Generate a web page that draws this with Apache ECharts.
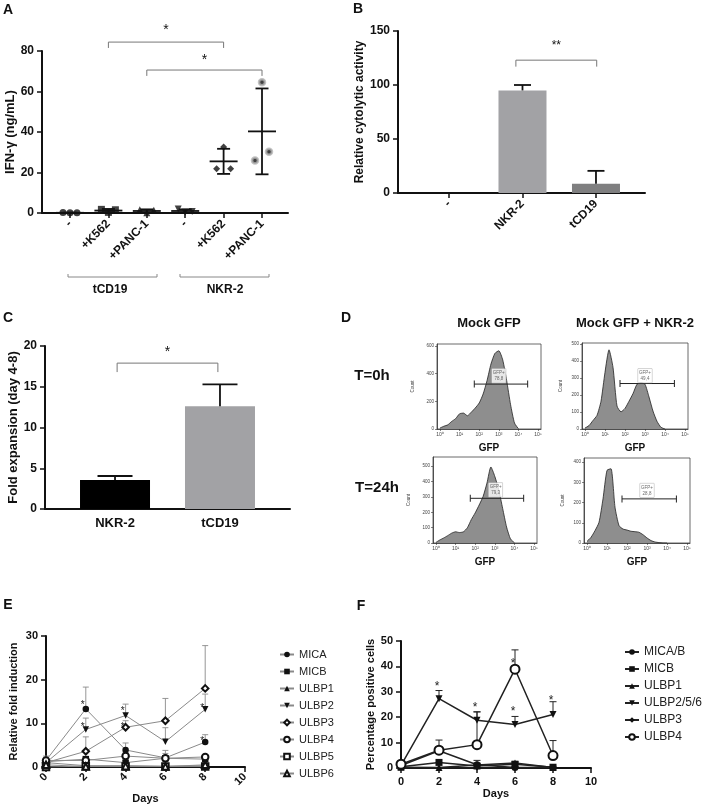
<!DOCTYPE html>
<html><head><meta charset="utf-8">
<script src="https://cdn.jsdelivr.net/npm/echarts@6/dist/echarts.min.js"></script>
<style>html,body{margin:0;padding:0;background:#fff}#c{width:708px;height:812px}</style>
</head><body><div id="c"></div>
<script>
// ---------- Panel A: IFN-gamma ----------
const catsA = ['-', '+K562', '+PANC-1', '-', '+K562', '+PANC-1'];
const pointsA = [[0.2, 0.1, 0.1], [1.8, 0.3, 1.6], [1.6, 0.1, 1.3], [2.0, 0.4, 0.7], [21.9, 32.6, 21.9], [25.9, 64.6, 30.3]];
const meanA = [0.1, 1.2, 1.0, 1.0, 25.5, 40.3];
const sdA = [0.1, 0.8, 0.8, 0.8, 6.2, 21.2];
const groupNamesA = ['tCD19', 'NKR-2'];
// significance: [from, to, bracketY, tipY, starY]
const sigA = [[1, 4, 84.4, 81.5, 91.8], [2, 5, 70.6, 67.7, 77.0]];
const sigTextA = ['*', '*'];

// ---------- Panel B: cytolytic activity ----------
const catsB = ['-', 'NKR-2', 'tCD19'];
const valsB = [0, 95, 8.5];
const sdB = [0, 5, 12];
const sigB = [[0.91, 2.01, 123, 117, 139]];
const sigTextB = ['**'];

// ---------- Panel C: fold expansion ----------
const catsC = ['NKR-2', 'tCD19'];
const valsC = [3.55, 12.6];
const sdC = [0.5, 2.7];
const sigC = [[0.02, 0.98, 17.9, 16.8, 19.7]];
const sigTextC = ['*'];

// ---------- Panel D: flow histograms (x = log10 GFP) ----------
const gfpLog = [0, 0.2, 0.4, 0.6, 0.8, 1.0, 1.2, 1.4, 1.6, 1.8, 2.0, 2.2, 2.4, 2.6, 2.8, 3.0, 3.2, 3.4, 3.6, 3.8, 4.0];
const histT0Mock = [7, 20, 30, 55, 75, 110, 115, 96, 122, 152, 188, 253, 350, 470, 547, 566, 500, 350, 176, 43, 2];
const histT0NKR = [6, 20, 50, 80, 163, 333, 465, 362, 135, 101, 121, 163, 208, 263, 273, 263, 188, 105, 45, 10, 0];
const histT24Mock = [4, 20, 33, 48, 64, 73, 68, 73, 99, 152, 196, 247, 302, 390, 495, 434, 346, 225, 104, 26, 2];
const histT24NKR = [8, 28, 61, 102, 218, 359, 367, 177, 86, 69, 64, 58, 56, 53, 41, 25, 12, 5, 2, 0, 0];
const countMaxD = [615, 505, 560, 420];
const countTicksD = [[0, 200, 400, 600], [0, 100, 200, 300, 400, 500], [0, 100, 200, 300, 400, 500], [0, 100, 200, 300, 400]];
const gateLog = [1.75, 4.47];
const gateCount = [325, 267, 291, 218];
const gatePct = ['78,8', '49,4', '79,3', '28,8'];
const gateLabelPos = [[3.0, 385], [3.0, 313], [3.04, 346], [3.0, 260]];
const colHeadersD = ['Mock GFP', 'Mock GFP + NKR-2'];
const rowHeadersD = ['T=0h', 'T=24h'];
const decadeTicks = [0, 1, 2, 3, 4, 5];

// ---------- Panel E: relative fold induction ----------
const days = [0, 2, 4, 6, 8];
const namesE = ['MICA', 'MICB', 'ULBP1', 'ULBP2', 'ULBP3', 'ULBP4', 'ULBP5', 'ULBP6'];
const valsE = [
  [1.5, 13.3, 3.9, 2.1, 5.7],
  [1.2, 1.8, 1.0, 2.0, 1.8],
  [1.0, 0.3, 0.3, 0.2, 0.3],
  [1.0, 8.6, 11.8, 5.8, 13.2],
  [1.0, 3.6, 9.1, 10.6, 18.0],
  [1.5, 1.5, 2.5, 2.0, 2.3],
  [0.0, 0.2, 0.1, 0.1, 0.1],
  [0.5, 0.1, 0.2, 0.1, 0.5]
];
const sdE = [
  [1.0, 5.0, 1.6, 1.0, 1.7],
  [0.5, 0.3, 0.5, 0.5, 0.4],
  [0.3, 0.2, 0.2, 0.2, 0.2],
  [0.5, 2.6, 2.6, 3.2, 3.5],
  [0.5, 3.3, 1.5, 5.1, 9.8],
  [0.5, 0.5, 0.8, 1.8, 0.5],
  [0, 0, 0, 0, 0],
  [0.3, 0, 0, 0, 0]
];
const starsE = [[2, 14.7], [2, 9.6], [4, 13.3], [4, 9.6], [8, 14.0], [8, 6.4]];

// ---------- Panel F: percentage positive cells ----------
const namesF = ['MICA/B', 'MICB', 'ULBP1', 'ULBP2/5/6', 'ULBP3', 'ULBP4'];
const valsF = [
  [1.0, 6.8, 1.3, 0.2, 0.2],
  [0.5, 2.2, 0.8, 1.5, 0.3],
  [0.3, 0.2, 1.2, 2.0, 0.2],
  [1.0, 27.3, 18.8, 17.1, 21.1],
  [0.0, 0.0, 0.0, 0.0, 0.2],
  [1.5, 7.0, 9.2, 38.9, 4.9]
];
const sdF = [
  [1.0, 4.2, 1.7, 0, 0],
  [0.5, 0, 0.5, 0.5, 0],
  [0, 0, 0.5, 0.5, 0],
  [1.0, 3.2, 3.3, 3.2, 5.0],
  [0, 0, 0, 0, 0],
  [1.0, 0, 12.9, 7.6, 5.9]
];
const starsF = [[2, 33.0], [4, 25.0], [6, 42.1], [6, 23.2], [8, 27.6]];

// =====================================================
const FONT = '"Liberation Sans", Arial, Helvetica, sans-serif';
const BLK = '#111';
const sup = ['\u2070', '\u00b9', '\u00b2', '\u00b3', '\u2074', '\u2075'];
const downTri = 'path://M0,0 L10,0 L5,9 Z';
const chart = echarts.init(document.getElementById('c'));

function yAx(grid, min, max, interval, name, nameGap, fs, nfs) {
  return {
    type: 'value', gridIndex: grid, min, max, interval,
    axisLine: { show: true, onZero: false, lineStyle: { color: BLK, width: 2 } },
    axisTick: { show: true, length: 5, lineStyle: { color: BLK, width: 1.5 } },
    axisLabel: { color: BLK, fontWeight: 'bold', fontSize: fs, fontFamily: FONT, margin: 8 },
    splitLine: { show: false },
    name, nameLocation: 'middle', nameRotate: 90, nameGap,
    nameTextStyle: { color: BLK, fontWeight: 'bold', fontSize: nfs, fontFamily: FONT }
  };
}
function xCat(grid, min, max, cats, rotate, fs, showTick) {
  const idx = cats.map((_, i) => i);
  return {
    type: 'value', gridIndex: grid, min, max,
    axisLine: { show: true, onZero: false, lineStyle: { color: BLK, width: 2 } },
    axisTick: { show: showTick, customValues: idx, length: 5, lineStyle: { color: BLK, width: 1.5 } },
    axisLabel: { customValues: idx, formatter: v => cats[Math.round(v)], rotate, fontSize: fs, fontWeight: 'bold', color: BLK, fontFamily: FONT, margin: 9 },
    splitLine: { show: false }
  };
}
function xDays(grid, rotate, nameGap, fs) {
  return {
    type: 'value', gridIndex: grid, min: 0, max: 10, interval: 2,
    axisLine: { show: true, onZero: false, lineStyle: { color: BLK, width: 2 } },
    axisTick: { show: true, length: 5, lineStyle: { color: BLK, width: 1.5 } },
    axisLabel: { rotate, fontSize: fs, fontWeight: 'bold', color: BLK, fontFamily: FONT, margin: 8 },
    splitLine: { show: false },
    name: 'Days', nameLocation: 'middle', nameGap,
    nameTextStyle: { color: BLK, fontWeight: 'bold', fontSize: 11, fontFamily: FONT }
  };
}

function errRender(capW, lw, color, meanW) {
  return function (params, api) {
    const x = api.value(0), m = api.value(1), sd = api.value(2);
    const style = { stroke: color, lineWidth: lw, fill: null };
    const pm = api.coord([x, m]), pu = api.coord([x, m + sd]);
    const ch = [];
    if (meanW) {
      const pl = api.coord([x, m - sd]);
      ch.push({ type: 'line', shape: { x1: pu[0], y1: pu[1], x2: pl[0], y2: pl[1] }, style });
      ch.push({ type: 'line', shape: { x1: pu[0] - capW / 2, y1: pu[1], x2: pu[0] + capW / 2, y2: pu[1] }, style });
      ch.push({ type: 'line', shape: { x1: pl[0] - capW / 2, y1: pl[1], x2: pl[0] + capW / 2, y2: pl[1] }, style });
      ch.push({ type: 'line', shape: { x1: pm[0] - meanW / 2, y1: pm[1], x2: pm[0] + meanW / 2, y2: pm[1] }, style });
    } else {
      if (!(sd > 0)) return null;
      ch.push({ type: 'line', shape: { x1: pm[0], y1: pm[1], x2: pu[0], y2: pu[1] }, style });
      ch.push({ type: 'line', shape: { x1: pu[0] - capW / 2, y1: pu[1], x2: pu[0] + capW / 2, y2: pu[1] }, style });
    }
    return { type: 'group', children: ch };
  };
}
function bracketRender(labels, color, fs) {
  return function (params, api) {
    const x1 = api.value(0), x2 = api.value(1), yt = api.value(2), yp = api.value(3), ys = api.value(4);
    const a = api.coord([x1, yp]), b = api.coord([x1, yt]), c = api.coord([x2, yt]), d = api.coord([x2, yp]);
    const s = api.coord([(x1 + x2) / 2, ys]);
    return {
      type: 'group', children: [
        { type: 'polyline', shape: { points: [a, b, c, d] }, style: { stroke: color, lineWidth: 1, fill: null } },
        { type: 'text', x: s[0], y: s[1] + fs * 0.25, style: { text: labels[params.dataIndex], fill: BLK, fontSize: fs, fontFamily: FONT, align: 'center', verticalAlign: 'middle' } }
      ]
    };
  };
}
function starRender(fs, dx) {
  return function (params, api) {
    const p = api.coord([api.value(0), api.value(1)]);
    return { type: 'text', x: p[0] + dx, y: p[1] + fs * 0.25, style: { text: '*', fill: '#222', fontSize: fs, fontFamily: FONT, align: 'center', verticalAlign: 'middle' } };
  };
}

const grids = [
  { left: 42, top: 51, width: 246, height: 162 },
  { left: 398, top: 31, width: 247, height: 162 },
  { left: 45, top: 346, width: 245, height: 163 },
  { left: 437, top: 344, width: 104, height: 85, show: true, borderColor: '#444', borderWidth: 0.8 },
  { left: 582, top: 343, width: 106, height: 86, show: true, borderColor: '#444', borderWidth: 0.8 },
  { left: 433, top: 457, width: 104, height: 86, show: true, borderColor: '#444', borderWidth: 0.8 },
  { left: 584, top: 458, width: 106, height: 85, show: true, borderColor: '#444', borderWidth: 0.8 },
  { left: 46, top: 636, width: 199, height: 131 },
  { left: 401, top: 641, width: 190, height: 127 }
];

const xAxes = [
  xCat(0, -0.729, 5.677, catsA, 45, 12, true),
  xCat(1, -0.694, 2.667, catsB, 45, 12, true),
  xCat(2, -0.667, 1.667, catsC, 0, 13, false)
];
const yAxes = [
  yAx(0, 0, 80, 20, 'IFN-\u03b3 (ng/mL)', 24, 12, 13),
  yAx(1, 0, 150, 50, 'Relative cytolytic activity', 30, 12, 12),
  yAx(2, 0, 20, 5, 'Fold expansion (day 4-8)', 24, 12, 13)
];
xAxes[2].axisLabel.margin = 8;

for (let k = 0; k < 4; k++) {
  xAxes.push({
    type: 'value', gridIndex: 3 + k, min: -0.15, max: 5.15,
    axisLine: { show: true, onZero: false, lineStyle: { color: '#333', width: 0.8 } },
    axisTick: { customValues: decadeTicks, length: 2, lineStyle: { color: '#333', width: 0.6 } },
    axisLabel: { customValues: decadeTicks, formatter: v => '10' + sup[Math.round(v)], fontSize: 5, color: '#444', margin: 3, fontFamily: FONT },
    splitLine: { show: false },
    name: 'GFP', nameLocation: 'middle', nameGap: 14,
    nameTextStyle: { color: BLK, fontWeight: 'bold', fontSize: 10, fontFamily: FONT }
  });
  yAxes.push({
    type: 'value', gridIndex: 3 + k, min: 0, max: countMaxD[k],
    axisLine: { show: true, onZero: false, lineStyle: { color: '#333', width: 0.8 } },
    axisTick: { customValues: countTicksD[k], length: 2, lineStyle: { color: '#333', width: 0.6 } },
    axisLabel: { customValues: countTicksD[k], fontSize: 4.5, color: '#444', margin: 3, fontFamily: FONT },
    splitLine: { show: false },
    name: 'Count', nameLocation: 'middle', nameRotate: 90, nameGap: k % 2 === 0 ? 22 : 19,
    nameTextStyle: { color: '#444', fontSize: 4.5, fontFamily: FONT }
  });
}
xAxes.push(xDays(7, 45, 26, 11));
yAxes.push(yAx(7, 0, 30, 10, 'Relative fold induction', 27, 11, 11));
xAxes.push(xDays(8, 0, 20, 11));
yAxes.push(yAx(8, 0, 50, 10, 'Percentage positive cells', 20, 11, 11));

const series = [];
// ---- A
const symA = ['circle', 'rect', 'triangle', downTri, 'diamond', 'circle'];
const jit = [-7, 0, 7];
pointsA.forEach((pts, g) => {
  series.push({
    type: 'scatter', xAxisIndex: 0, yAxisIndex: 0, symbol: symA[g], symbolSize: g === 5 ? 6 : 7,
    itemStyle: g === 5 ? { color: BLK, borderColor: '#b3b3b3', borderWidth: 2.5 } : { color: BLK },
    data: pts.map((v, j) => ({ value: [g, v], symbolOffset: [jit[j], 0] })), z: 3
  });
});
series.push({ type: 'custom', xAxisIndex: 0, yAxisIndex: 0, renderItem: errRender(13, 1.8, BLK, 28), data: meanA.map((m, i) => [i, m, sdA[i]]), z: 4 });
series.push({ type: 'custom', xAxisIndex: 0, yAxisIndex: 0, clip: false, renderItem: bracketRender(sigTextA, '#777', 14), data: sigA });
// ---- B
series.push({
  type: 'bar', xAxisIndex: 1, yAxisIndex: 1, barWidth: 48,
  itemStyle: { color: p => (p.dataIndex === 2 ? '#7f7f80' : '#a2a2a5') },
  data: valsB.map((v, i) => [i, v])
});
series.push({ type: 'custom', xAxisIndex: 1, yAxisIndex: 1, renderItem: errRender(17, 1.8, BLK, 0), data: valsB.map((v, i) => [i, v, sdB[i]]), z: 4 });
series.push({ type: 'custom', xAxisIndex: 1, yAxisIndex: 1, clip: false, renderItem: bracketRender(sigTextB, '#777', 12), data: sigB });
// ---- C
series.push({
  type: 'bar', xAxisIndex: 2, yAxisIndex: 2, barWidth: 70,
  itemStyle: { color: p => (p.dataIndex === 0 ? '#000' : '#a2a2a5') },
  data: valsC.map((v, i) => [i, v])
});
series.push({ type: 'custom', xAxisIndex: 2, yAxisIndex: 2, renderItem: errRender(35, 1.8, BLK, 0), data: valsC.map((v, i) => [i, v, sdC[i]]), z: 4 });
series.push({ type: 'custom', xAxisIndex: 2, yAxisIndex: 2, clip: false, renderItem: bracketRender(sigTextC, '#777', 14), data: sigC });
// ---- D
[histT0Mock, histT0NKR, histT24Mock, histT24NKR].forEach((h, k) => {
  series.push({
    type: 'line', xAxisIndex: 3 + k, yAxisIndex: 3 + k, symbol: 'none', smooth: 0.2,
    lineStyle: { color: '#222', width: 0.8 }, areaStyle: { color: '#8e8e8e', opacity: 1 },
    data: gfpLog.map((x, i) => [x, h[i]])
  });
  series.push({
    type: 'line', xAxisIndex: 3 + k, yAxisIndex: 3 + k, symbol: 'rect', symbolSize: [1, 7],
    itemStyle: { color: '#222' }, lineStyle: { color: '#222', width: 1 },
    data: gateLog.map(x => [x, gateCount[k]]), z: 5
  });
  series.push({
    type: 'scatter', xAxisIndex: 3 + k, yAxisIndex: 3 + k, symbolSize: 0, z: 6,
    data: [gateLabelPos[k]],
    label: { show: true, position: 'inside', formatter: 'GFP+\n' + gatePct[k], fontSize: 4.5, lineHeight: 6, color: '#444', backgroundColor: '#fff', borderColor: '#aaa', borderWidth: 0.5, padding: [1, 1], fontFamily: FONT }
  });
});
// ---- E
const symE = ['circle', 'rect', 'triangle', downTri, 'emptyDiamond', 'emptyCircle', 'emptyRect', 'emptyTriangle'];
valsE.forEach((vals, s) => {
  series.push({ type: 'custom', xAxisIndex: 7, yAxisIndex: 7, renderItem: errRender(6, 0.9, '#8a8a8a', 0), data: days.map((d, i) => [d, vals[i], sdE[s][i]]), z: 1 });
});
valsE.forEach((vals, s) => {
  series.push({
    type: 'line', name: namesE[s], xAxisIndex: 7, yAxisIndex: 7, symbol: symE[s], symbolSize: 6.5,
    lineStyle: { color: '#8a8a8a', width: 1 }, itemStyle: { color: BLK, borderWidth: 1 },
    data: days.map((d, i) => [d, vals[i]]), z: 3
  });
});
series.push({ type: 'custom', xAxisIndex: 7, yAxisIndex: 7, clip: false, renderItem: starRender(10, -3), data: starsE, z: 5 });
// ---- F
const symF = ['circle', 'rect', 'triangle', downTri, 'diamond', 'emptyCircle'];
valsF.forEach((vals, s) => {
  series.push({ type: 'custom', xAxisIndex: 8, yAxisIndex: 8, renderItem: errRender(7, 1, '#222', 0), data: days.map((d, i) => [d, vals[i], sdF[s][i]]), z: 1 });
});
valsF.forEach((vals, s) => {
  series.push({
    type: 'line', name: namesF[s] + '\u00b7F', xAxisIndex: 8, yAxisIndex: 8, symbol: symF[s],
    symbolSize: s === 5 ? 9 : (s === 4 ? 5 : 7),
    lineStyle: { color: '#222', width: 1.5 }, itemStyle: { color: BLK, borderWidth: 1.2 },
    data: days.map((d, i) => [d, vals[i]]), z: 3
  });
});
series.push({ type: 'custom', xAxisIndex: 8, yAxisIndex: 8, clip: false, renderItem: starRender(12, -2), data: starsF, z: 5 });

function txt(x, y, text, fs, weight, align) {
  return { type: 'text', x, y, style: { text, fontSize: fs, fontWeight: weight || 'bold', fontFamily: FONT, fill: BLK, align: align || 'center', verticalAlign: 'middle' } };
}
const graphics = [
  txt(8, 10, 'A', 14), txt(358, 9, 'B', 14), txt(8, 318, 'C', 14), txt(346, 318, 'D', 14),
  txt(8, 605, 'E', 14), txt(361, 606, 'F', 14),
  { type: 'polyline', shape: { points: [[68, 274], [68, 277], [157, 277], [157, 274]] }, style: { stroke: '#888', lineWidth: 1, fill: null } },
  { type: 'polyline', shape: { points: [[180, 274], [180, 277], [269, 277], [269, 274]] }, style: { stroke: '#888', lineWidth: 1, fill: null } },
  txt(110, 290, groupNamesA[0], 12), txt(225, 290, groupNamesA[1], 12),
  txt(489, 323, colHeadersD[0], 13), txt(635, 323, colHeadersD[1], 13),
  txt(372, 376, rowHeadersD[0], 15), txt(377, 488, rowHeadersD[1], 15)
];

const legendBase = { orient: 'vertical', itemWidth: 14, itemHeight: 7, selectedMode: false, inactiveColor: '#ccc' };
chart.setOption({
  animation: false,
  backgroundColor: '#fff',
  grid: grids,
  xAxis: xAxes,
  yAxis: yAxes,
  legend: [
    Object.assign({}, legendBase, { data: namesE, left: 274, top: 644, itemGap: 6, textStyle: { fontSize: 11, color: '#222', fontFamily: FONT } }),
    Object.assign({}, legendBase, { data: namesF.map(n => n + '\u00b7F'), formatter: n => n.replace('\u00b7F', ''), left: 619, top: 641, itemGap: 5, textStyle: { fontSize: 12, color: '#222', fontFamily: FONT } })
  ],
  graphic: graphics,
  series
});
</script></body></html>
